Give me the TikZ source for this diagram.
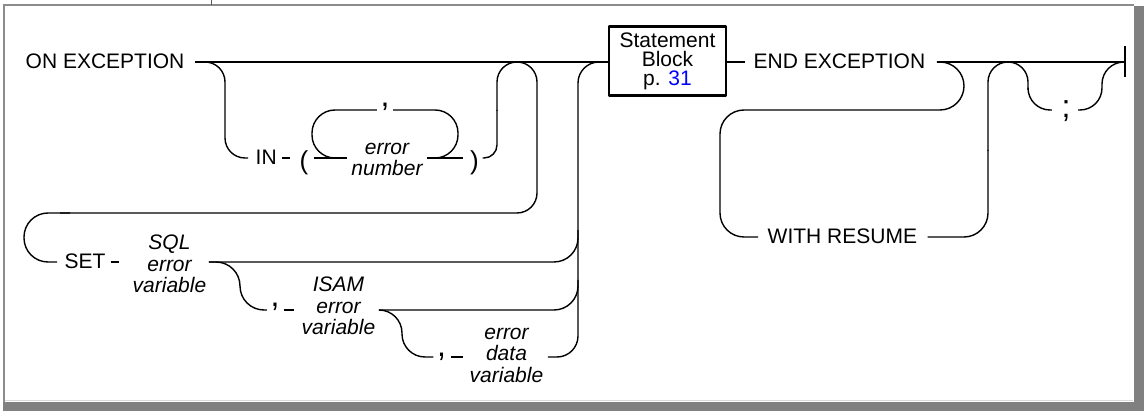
\documentclass[tikz,border=0pt]{standalone}
\usepackage{fontspec}
\setmainfont{Liberation Sans}
\usetikzlibrary{calc}
\tikzset{
  kw/.style={font=\fontsize{21}{21}\selectfont, inner sep=0pt, text height=13pt, text depth=0pt},
  itgrp/.style={font=\fontsize{21}{21.5}\selectfont\itshape, inner sep=0pt, align=center},
  bigp/.style={font=\fontsize{32}{32}\selectfont, inner sep=0pt},
  paren/.style={font=\fontsize{26}{26}\selectfont, inner sep=0pt},
  sbox/.style={draw, line width=2.2pt, minimum width=117pt, minimum height=69pt, inner sep=0pt, align=center, font=\fontsize{21}{19}\selectfont},
  frameline/.style={draw=black!45},
}
\begin{document}
\begin{tikzpicture}[x=1pt,y=-1pt, line width=1.4pt, line join=round]
\useasboundingbox (0,0) rectangle (1144,411);
% frame
\fill[white] (0,0) rectangle (1144,411);
\draw[frameline, line width=1.6pt] (3,5) -- (1134,5);
\draw[frameline, line width=2.4pt] (4,5) -- (4,402);
\draw[black!65, line width=1pt] (211,0) -- (211,5);
\fill[black!50] (3,402) rectangle (1144,411);
\fill[black!50] (1134,6) rectangle (1144,411);
\draw[black!15, line width=1pt] (5,400.5) -- (1133,400.5);

% row coordinates
\coordinate (yL) at (0,110);
\coordinate (r2) at (0,262);
\coordinate (r3) at (0,310);
\coordinate (r4) at (0,357);
\coordinate (fin) at (1125,62);

% nodes
\node[kw, anchor=west] (onexc) at (25,62) {ON EXCEPTION};
\node[kw, anchor=west] (in) at (255,158) {IN};
\node[paren, anchor=base] (lp) at (304,169.5) {(};
\node[itgrp, anchor=base] (errnum) at (387,176) {error\\number};
\node[bigp, anchor=base] (c0) at (385,106.5) {,};
\node[paren, anchor=base] (rp) at (474.5,169.5) {)};
\node[sbox] (sb) at (667.5,61) {Statement\\Block\\p. \textcolor{blue}{31}};
\node[kw, anchor=west] (endexc) at (753,62) {END EXCEPTION};
\node[kw, anchor=west] (withr) at (767,237) {WITH RESUME};
\node[bigp, anchor=base] (semi) at (1066,118) {;};
\node[kw, anchor=west] (set) at (64,262) {SET};
\node[itgrp, anchor=base] (sql) at (169.5,293) {SQL\\error\\variable};
\node[bigp, anchor=base] (c1) at (275,306.3) {,};
\node[itgrp, anchor=base] (isam) at (338.5,335) {ISAM\\error\\variable};
\node[bigp, anchor=base] (c2) at (441.5,356.3) {,};
\node[itgrp, anchor=base] (edata) at (506.5,382.5) {error\\data\\variable};

% main line
\draw ($(onexc.east)+(10,0)$) -- (sb.west |- onexc.east);
% IN branch
\draw[rounded corners=20] ($(onexc.east)+(10,0)$) -- (225,62) -- (225,158) -- ($(in.west)+(-7,0)$);
\draw ($(in.east)+(5,0)$) -- ++(8,0);
\draw ($(lp.east |- in.east)+(5,0)$) -- ($(errnum.west |- in.east)+(-4,0)$);
% repetition loop
\draw[rounded corners=23] ($(errnum.west |- in.east)+(-12,0)$) -- (312,158) -- (312,110) -- ($(c0.west |- yL)+(-3,0)$);
\draw[rounded corners=23] ($(c0.east |- yL)+(3,0)$) -- (458,110) -- (458,158) -- ($(errnum.east |- in.east)+(4,0)$);
\draw ($(errnum.east |- in.east)+(4,0)$) -- ($(rp.west |- in.east)+(-6,0)$);
% back up to main
\draw[rounded corners=13] ($(rp.east |- in.east)+(3,0)$) -- (497,158) -- (497,110);
\draw[rounded corners=20] (497,111) -- (497,62) -- (541,62);
% down to SET
\draw[rounded corners=20] (495,62) -- (537,62) -- (537,213) -- (60,213);
\draw[rounded corners=24] (70,213) -- (24,213) -- (24,262) -- ($(set.west)+(-7,0)$);
\draw ($(set.east)+(5,0)$) -- ++(8,0);
% SET rows
\draw[rounded corners=24] ($(sql.east |- r2)+(2,0)$) -- (578,262) -- (578,230);
\draw[rounded corners=24] ($(sql.east |- r2)+(2,0)$) -- (240,262) -- (240,310) -- ($(c1.west |- r3)+(-3,0)$);
\draw ($(c1.east |- r3)+(3.5,0)$) -- ++(10,0);
\draw[rounded corners=24] ($(isam.east |- r3)+(3,0)$) -- (578,310) -- (578,280);
\draw[rounded corners=23] ($(isam.east |- r3)+(3,0)$) -- (402,310) -- (402,357) -- ($(c2.west |- r4)+(-3,0)$);
\draw ($(c2.east |- r4)+(4,0)$) -- ++(12,0);
\draw[rounded corners=21] ($(edata.east |- r4)+(4,0)$) -- (578,357) -- (578,62) -- (sb.west |- onexc.east);
% right part
\draw (sb.east |- onexc.east) -- ($(endexc.west)+(-8,0)$);
\draw ($(endexc.east)+(11,0)$) -- (fin);
\draw ($(fin)+(0,-16)$) -- ($(fin)+(0,15)$);
\draw[rounded corners=24] ($(endexc.east)+(11,0)$) -- (964,62) -- (964,110) -- (720,110) -- (720,237) -- ($(withr.west)+(-9,0)$);
\draw[rounded corners=24] ($(withr.east)+(10,0)$) -- (988,237) -- (988,150);
\draw[rounded corners=20] (988,151) -- (988,62) -- (1030,62);
\draw[rounded corners=20] (990,62) -- (1028,62) -- (1028,90);
\draw[rounded corners=22] (1028,89) -- (1028,110) -- ($(semi.west |- yL)+(-9,0)$);
\draw[rounded corners=22] ($(semi.east |- yL)+(7,0)$) -- (1102,110) -- (1102,62) -- (fin);
\end{tikzpicture}
\end{document}
